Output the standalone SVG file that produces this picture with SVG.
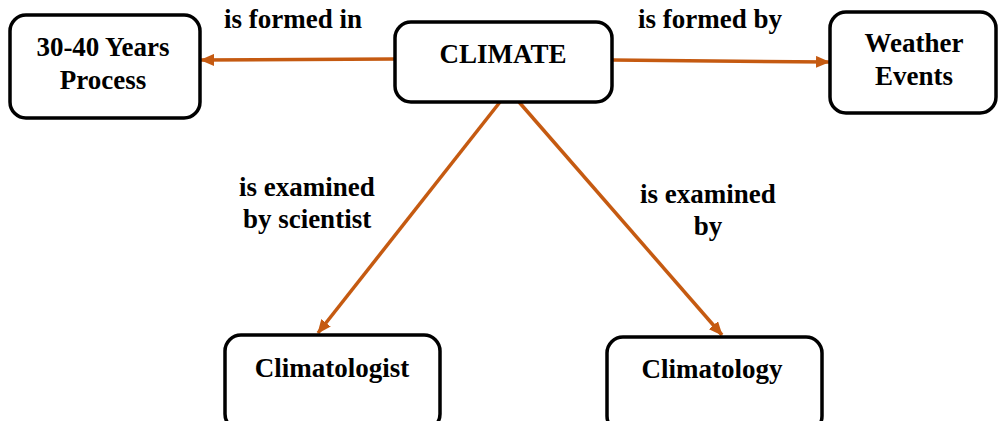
<svg xmlns="http://www.w3.org/2000/svg" width="1001" height="421" viewBox="0 0 1001 421">
  <style>
    .box { fill: #ffffff; stroke: #000000; stroke-width: 3.5; }
    .lbl { font-family: "Liberation Serif", "Times New Roman", serif; font-weight: bold; font-size: 27px; fill: #000000; text-anchor: middle; }
    .link { stroke: #C55A11; stroke-width: 3.5; fill: none; marker-end: url(#arrow); }
  </style>
  <defs>
    <marker id="arrow" markerUnits="userSpaceOnUse" markerWidth="14" markerHeight="12" refX="13" refY="6" orient="auto">
      <path d="M0,0 L14,6 L0,12 Z" fill="#C55A11"/>
    </marker>
  </defs>
  <rect width="1001" height="421" fill="#ffffff"/>

  <g id="connectors">
    <line class="link" x1="395" y1="59" x2="201" y2="60"/>
    <line class="link" x1="612" y1="60" x2="829" y2="62"/>
    <line class="link" x1="500" y1="102" x2="318" y2="333"/>
    <line class="link" x1="519" y1="102" x2="722" y2="335"/>
    <text class="lbl" x="293" y="28">is formed in</text>
    <text class="lbl" x="710" y="28">is formed by</text>
    <text class="lbl" x="307" y="196">is examined</text>
    <text class="lbl" x="307" y="228">by scientist</text>
    <text class="lbl" x="708" y="203">is examined</text>
    <text class="lbl" x="708" y="235">by</text>
  </g>

  <g id="process">
    <rect class="box" x="10" y="15" width="190" height="103" rx="16"/>
    <text class="lbl" x="103" y="56">30-40 Years</text>
    <text class="lbl" x="103" y="89">Process</text>
  </g>

  <g id="climate">
    <rect class="box" x="395" y="22" width="217" height="80" rx="16"/>
    <text class="lbl" x="503" y="63">CLIMATE</text>
  </g>

  <g id="weather">
    <rect class="box" x="830" y="12" width="166" height="101" rx="16"/>
    <text class="lbl" x="914" y="52">Weather</text>
    <text class="lbl" x="914" y="85">Events</text>
  </g>

  <g id="climatologist">
    <rect class="box" x="225" y="335" width="215" height="95" rx="16"/>
    <text class="lbl" x="332" y="377">Climatologist</text>
  </g>

  <g id="climatology">
    <rect class="box" x="607" y="337" width="215" height="95" rx="16"/>
    <text class="lbl" x="712" y="378">Climatology</text>
  </g>
</svg>
